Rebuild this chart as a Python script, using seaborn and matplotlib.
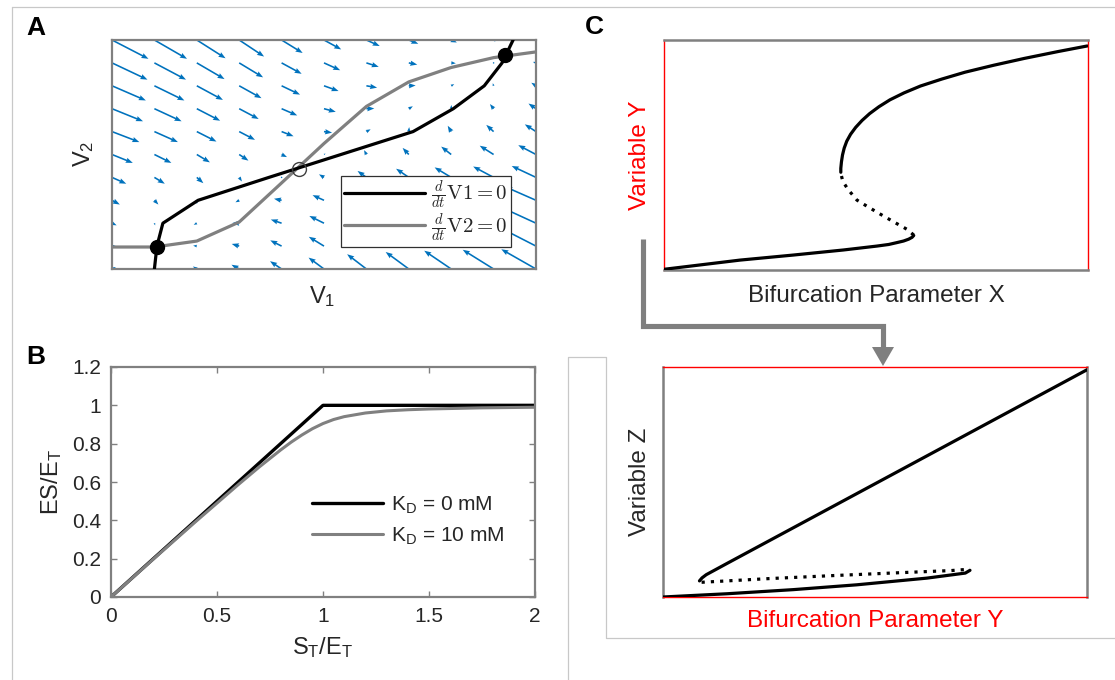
import numpy as np
import matplotlib
matplotlib.use("Agg")
import matplotlib.pyplot as plt
from matplotlib.lines import Line2D
from matplotlib.patches import Polygon
import seaborn as sns

# ---------------- Panel A: phase plane of V1 / V2 ----------------
grid_levels = [0.0, 0.1, 0.2, 0.3, 0.4, 0.5, 0.6, 0.7, 0.8, 0.9, 1.0]
# dV1/dt = 0 nullcline: V1 position at each V2 level
v1_nullcline_v1 = [0.100, 0.106, 0.120, 0.203, 0.370, 0.540, 0.710, 0.805, 0.878, 0.920, 0.946]
# dV2/dt = 0 nullcline: V2 position at each V1 level
v2_nullcline_v2 = [0.096, 0.096, 0.122, 0.205, 0.376, 0.548, 0.710, 0.817, 0.880, 0.923, 0.948]
stable_v1 = [0.106, 0.927]
stable_v2 = [0.096, 0.934]
saddle_v1 = [0.440]
saddle_v2 = [0.437]

# ---------------- Panel B: bound fraction vs substrate ----------------
st_et = [0.0, 0.1, 0.2, 0.3, 0.4, 0.5, 0.6, 0.7, 0.8, 0.85, 0.9, 0.95, 1.0,
         1.05, 1.1, 1.2, 1.3, 1.4, 1.5, 1.75, 2.0]
es_kd10 = [0.0, 0.099, 0.198, 0.296, 0.394, 0.490, 0.586, 0.679, 0.767, 0.808,
           0.845, 0.878, 0.905, 0.926, 0.941, 0.960, 0.971, 0.977, 0.981, 0.987, 0.990]
st_kd0 = [0.0, 1.0, 2.0]
es_kd0 = [0.0, 1.0, 1.0]

# ---------------- Panel C (top): S-shaped bifurcation diagram ----------------
cx_low = [0.000, 0.085, 0.179, 0.305, 0.423, 0.502, 0.530, 0.549, 0.565, 0.577, 0.585, 0.589]
cy_low = [0.003, 0.022, 0.043, 0.065, 0.087, 0.104, 0.111, 0.119, 0.126, 0.134, 0.142, 0.150]
cx_mid = [0.589, 0.573, 0.541, 0.510, 0.478, 0.455, 0.435, 0.422, 0.417]
cy_mid = [0.152, 0.177, 0.210, 0.243, 0.278, 0.304, 0.348, 0.384, 0.420]
cx_high = [0.417, 0.417, 0.4185, 0.421, 0.425, 0.431, 0.440, 0.452, 0.467, 0.485, 0.507,
           0.533, 0.566, 0.605, 0.655, 0.710, 0.777, 0.850, 0.930, 0.998]
cy_high = [0.425, 0.442, 0.470, 0.500, 0.530, 0.560, 0.590, 0.620, 0.650, 0.680, 0.710,
           0.740, 0.770, 0.800, 0.830, 0.860, 0.890, 0.920, 0.950, 0.974]

# ---------------- Panel C (bottom): folded branch ----------------
zx_high = [0.086, 0.092, 0.102, 0.150, 1.000]
zy_high = [0.070, 0.083, 0.097, 0.145, 0.988]
zx_mid = [0.091, 0.250, 0.400, 0.550, 0.680, 0.724]
zy_mid = [0.064, 0.080, 0.093, 0.105, 0.115, 0.121]
zx_low = [0.724, 0.713, 0.622, 0.457, 0.307, 0.150, 0.000]
zy_low = [0.116, 0.104, 0.082, 0.053, 0.032, 0.014, 0.000]

sns.set_theme(style="white")
plt.rcParams["font.family"] = ["Liberation Sans", "DejaVu Sans"]
plt.rcParams["mathtext.fontset"] = "cm"

W, H = 1115, 680
fig = plt.figure(figsize=(W / 100, H / 100), dpi=100)
fig.patch.set_facecolor("white")


def rect(l, t, r, b):
    return [l / W, 1 - b / H, (r - l) / W, (b - t) / H]


def ftext(x, y, s, **kw):
    fig.text(x / W, 1 - y / H, s, **kw)


BLUE = "#0072BD"
DARK = "#262626"
MIDGRAY = "#808080"
RED = "#ff0000"
LW = 2.3

# ---- A ----
axA = fig.add_axes(rect(112, 40, 536, 269))
X, Y = np.meshgrid(grid_levels, grid_levels)
U = np.interp(Y, grid_levels, v1_nullcline_v1) - X
V = np.interp(X, grid_levels, v2_nullcline_v2) - Y
axA.quiver(X, Y, U, V, angles="xy", scale_units="xy", scale=11.0, color=BLUE,
           width=0.0038, headwidth=3.3, headlength=4.4, headaxislength=4.0, zorder=1)
sns.lineplot(x=v1_nullcline_v1, y=grid_levels, sort=False, estimator=None,
             color="black", lw=LW, ax=axA, zorder=3)
sns.lineplot(x=grid_levels, y=v2_nullcline_v2, sort=False, estimator=None,
             color=MIDGRAY, lw=LW, ax=axA, zorder=2)
axA.plot(stable_v1, stable_v2, "o", ms=10, color="black", zorder=5)
axA.plot(saddle_v1, saddle_v2, "o", ms=10, mfc="none", mec="#404040", mew=1.0, zorder=5)
axA.set_xlim(0, 1)
axA.set_ylim(0, 1)
axA.set_xticks([])
axA.set_yticks([])
axA.set_xlabel("")
axA.set_ylabel("")
for sp in axA.spines.values():
    sp.set_color(MIDGRAY)
    sp.set_linewidth(1.6)
legA = axA.legend(
    handles=[Line2D([], [], color="black", lw=LW), Line2D([], [], color=MIDGRAY, lw=LW)],
    labels=[r"$\frac{d}{dt}\mathrm{V1} = 0$", r"$\frac{d}{dt}\mathrm{V2} = 0$"],
    loc="lower right", bbox_to_anchor=(0.941, 0.096), borderaxespad=0,
    fontsize=15, handlelength=3.9, handletextpad=0.3, labelspacing=0.0,
    borderpad=0.15, frameon=True, fancybox=False, framealpha=1)
legA.get_frame().set_edgecolor("#303030")
legA.get_frame().set_linewidth(0.9)
legA.set_zorder(6)
ftext(84, 154, r"V$\mathregular{_2}$", rotation=90, ha="center", va="center",
      fontsize=17, color=DARK)
ftext(322, 297, r"V$\mathregular{_1}$", ha="center", va="center", fontsize=17, color=DARK)

# ---- B ----
axB = fig.add_axes(rect(111, 367, 535, 597))
sns.lineplot(x=st_kd0, y=es_kd0, color="black", lw=2.4, ax=axB, label="kd0")
sns.lineplot(x=st_et, y=es_kd10, color=MIDGRAY, lw=2.2, ax=axB, label="kd10")
axB.set_xlim(0, 2)
axB.set_ylim(0, 1.2)
axB.set_xticks([0, 0.5, 1, 1.5, 2])
axB.set_xticklabels(["0", "0.5", "1", "1.5", "2"])
axB.set_yticks([0, 0.2, 0.4, 0.6, 0.8, 1.0, 1.2])
axB.set_yticklabels(["0", "0.2", "0.4", "0.6", "0.8", "1", "1.2"])
axB.tick_params(direction="in", length=4, width=1.0, color=MIDGRAY, labelsize=15,
                labelcolor=DARK, top=True, right=True, bottom=True, left=True, pad=7)
axB.set_xlabel("")
axB.set_ylabel("")
for sp in axB.spines.values():
    sp.set_color(MIDGRAY)
    sp.set_linewidth(1.6)
handlesB, _ = axB.get_legend_handles_labels()
axB.legend(handles=handlesB,
           labels=[r"K$\mathregular{_D}$ = 0 mM", r"K$\mathregular{_D}$ = 10 mM"],
           loc="upper left", bbox_to_anchor=(0.475, 0.445), borderaxespad=0, borderpad=0,
           fontsize=15, handlelength=3.4, handletextpad=0.35, labelspacing=0.45,
           frameon=False)
ftext(52, 482, r"ES/E$\mathregular{_T}$", rotation=90, ha="center", va="center",
      fontsize=17, color=DARK)
ftext(323, 648, r"S$\mathregular{_T}$/E$\mathregular{_T}$", ha="center", va="center",
      fontsize=17, color=DARK)

# ---- C top ----
axC1 = fig.add_axes(rect(664, 40, 1088, 270))
sns.lineplot(x=cx_low, y=cy_low, sort=False, estimator=None, color="black", lw=LW, ax=axC1)
sns.lineplot(x=cx_mid, y=cy_mid, sort=False, estimator=None, color="black", lw=LW,
             linestyle=(0, (1.0, 1.9)), ax=axC1)
sns.lineplot(x=cx_high, y=cy_high, sort=False, estimator=None, color="black", lw=LW, ax=axC1)
axC1.set_xlim(0, 1)
axC1.set_ylim(0, 1)

# ---- C bottom ----
axC2 = fig.add_axes(rect(663, 367, 1087, 597))
sns.lineplot(x=zx_high, y=zy_high, sort=False, estimator=None, color="black", lw=LW, ax=axC2)
sns.lineplot(x=zx_mid, y=zy_mid, sort=False, estimator=None, color="black", lw=LW,
             linestyle=(0, (1.0, 1.9)), ax=axC2)
sns.lineplot(x=zx_low, y=zy_low, sort=False, estimator=None, color="black", lw=LW, ax=axC2)
axC2.set_xlim(0, 1)
axC2.set_ylim(0, 1)

for ax, red_sides in ((axC1, ("left", "right")), (axC2, ("top", "bottom"))):
    ax.set_xticks([])
    ax.set_yticks([])
    ax.set_xlabel("")
    ax.set_ylabel("")
    for name, sp in ax.spines.items():
        if name in red_sides:
            sp.set_color(RED)
            sp.set_linewidth(1.0)
        else:
            sp.set_color(MIDGRAY)
            sp.set_linewidth(1.8)
        sp.set_zorder(0.5)

ftext(640, 155, "Variable Y", rotation=90, ha="center", va="center", fontsize=17.5, color=RED)
ftext(876, 296, "Bifurcation Parameter X", ha="center", va="center", fontsize=17.5, color=DARK)
ftext(640, 482, "Variable Z", rotation=90, ha="center", va="center", fontsize=17.5, color=DARK)
ftext(875, 621, "Bifurcation Parameter Y", ha="center", va="center", fontsize=17.5, color=RED)

# ---- connector arrow between the two C diagrams ----
px = lambda x: x / W
py = lambda y: 1 - y / H
fig.add_artist(Line2D([px(643), px(643), px(883), px(883)],
                      [py(239), py(326), py(326), py(349)],
                      color="#7f7f7f", lw=3.7, solid_joinstyle="miter",
                      solid_capstyle="butt"))
fig.add_artist(Polygon([(px(872), py(347)), (px(894), py(347)), (px(883), py(366))],
                       closed=True, facecolor="#7f7f7f", edgecolor="none"))

# ---- light frame lines ----
FRAME = "#c8c8c8"
fig.add_artist(Line2D([px(12), px(1115)], [py(7), py(7)], color=FRAME, lw=0.9))
fig.add_artist(Line2D([px(12), px(12)], [py(7), py(680)], color=FRAME, lw=0.9))
fig.add_artist(Line2D([px(568), px(568), px(606), px(606), px(1115)],
                      [py(680), py(357), py(357), py(638), py(638)], color=FRAME, lw=0.9))

# ---- panel letters ----
ftext(36, 28, "A", ha="center", va="center", fontsize=19, fontweight="bold", color="black")
ftext(36, 357, "B", ha="center", va="center", fontsize=19, fontweight="bold", color="black")
ftext(594, 27, "C", ha="center", va="center", fontsize=19, fontweight="bold", color="black")

fig.savefig("out.png", dpi=100, facecolor="white")
